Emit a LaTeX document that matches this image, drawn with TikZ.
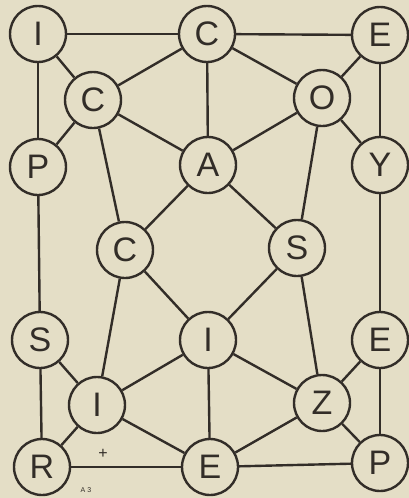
\documentclass[tikz,border=0pt]{standalone}
\usepackage{fontspec}
\setmainfont{Liberation Sans}
\definecolor{paper}{RGB}{228,222,198}
\definecolor{ink}{RGB}{50,45,40}
\tikzset{
  x=1pt,y=-1pt,
  letter/.style={circle,draw=ink,line width=2.4pt,minimum size=56pt,inner sep=0pt,text=ink,font=\fontsize{34}{34}\selectfont,fill=paper},
  link/.style={draw=ink,line width=2.4pt}
}
\begin{document}
\begin{tikzpicture}
\fill[paper] (0,0) rectangle (409,498);
\useasboundingbox (0,0) rectangle (409,498);
% nodes
\node[letter] (i1) at (38,34) {I};
\node[letter] (c1) at (207,34) {C};
\node[letter] (e1) at (380,35) {E};
\node[letter] (c2) at (93,100) {C};
\node[letter] (o1) at (322,98) {O};
\node[letter] (p1) at (38,167) {P};
\node[letter] (a1) at (208,165) {A};
\node[letter] (y1) at (380,165) {Y};
\node[letter] (c3) at (125,250) {C};
\node[letter] (s1) at (297,248) {S};
\node[letter] (s2) at (40,340) {S};
\node[letter] (i2) at (208,340) {I};
\node[letter] (e2) at (380,340) {E};
\node[letter] (i3) at (97,405) {I};
\node[letter] (z1) at (322,403) {Z};
\node[letter] (r1) at (42,467) {R};
\node[letter] (e3) at (210,467) {E};
\node[letter] (p2) at (380,463) {P};
% edges
\draw[link] (i1) -- (c1);
\draw[link] (c1) -- (e1);
\draw[link] (i1) -- (c2);
\draw[link] (i1) -- (p1);
\draw[link] (c1) -- (c2);
\draw[link] (c1) -- (a1);
\draw[link] (c1) -- (o1);
\draw[link] (e1) -- (o1);
\draw[link] (e1) -- (y1);
\draw[link] (c2) -- (p1);
\draw[link] (c2) -- (a1);
\draw[link] (c2) -- (c3);
\draw[link] (o1) -- (a1);
\draw[link] (o1) -- (y1);
\draw[link] (o1) -- (s1);
\draw[link] (p1) -- (s2);
\draw[link] (a1) -- (c3);
\draw[link] (a1) -- (s1);
\draw[link] (y1) -- (e2);
\draw[link] (c3) -- (i3);
\draw[link] (c3) -- (i2);
\draw[link] (s1) -- (i2);
\draw[link] (s1) -- (z1);
\draw[link] (s2) -- (r1);
\draw[link] (s2) -- (i3);
\draw[link] (i2) -- (i3);
\draw[link] (i2) -- (e3);
\draw[link] (i2) -- (z1);
\draw[link] (e2) -- (z1);
\draw[link] (e2) -- (p2);
\draw[link] (i3) -- (r1);
\draw[link] (i3) -- (e3);
\draw[link] (z1) -- (e3);
\draw[link] (z1) -- (p2);
\draw[link] (r1) -- (e3);
\draw[link] (e3) -- (p2);
% small marks
\node[text=ink,font=\fontsize{16}{16}\selectfont] (plus) at (103,454) {+};
\node[text=ink,font=\fontsize{7}{7}\selectfont] (mark) at (86,490) {A 3};
\end{tikzpicture}
\end{document}
